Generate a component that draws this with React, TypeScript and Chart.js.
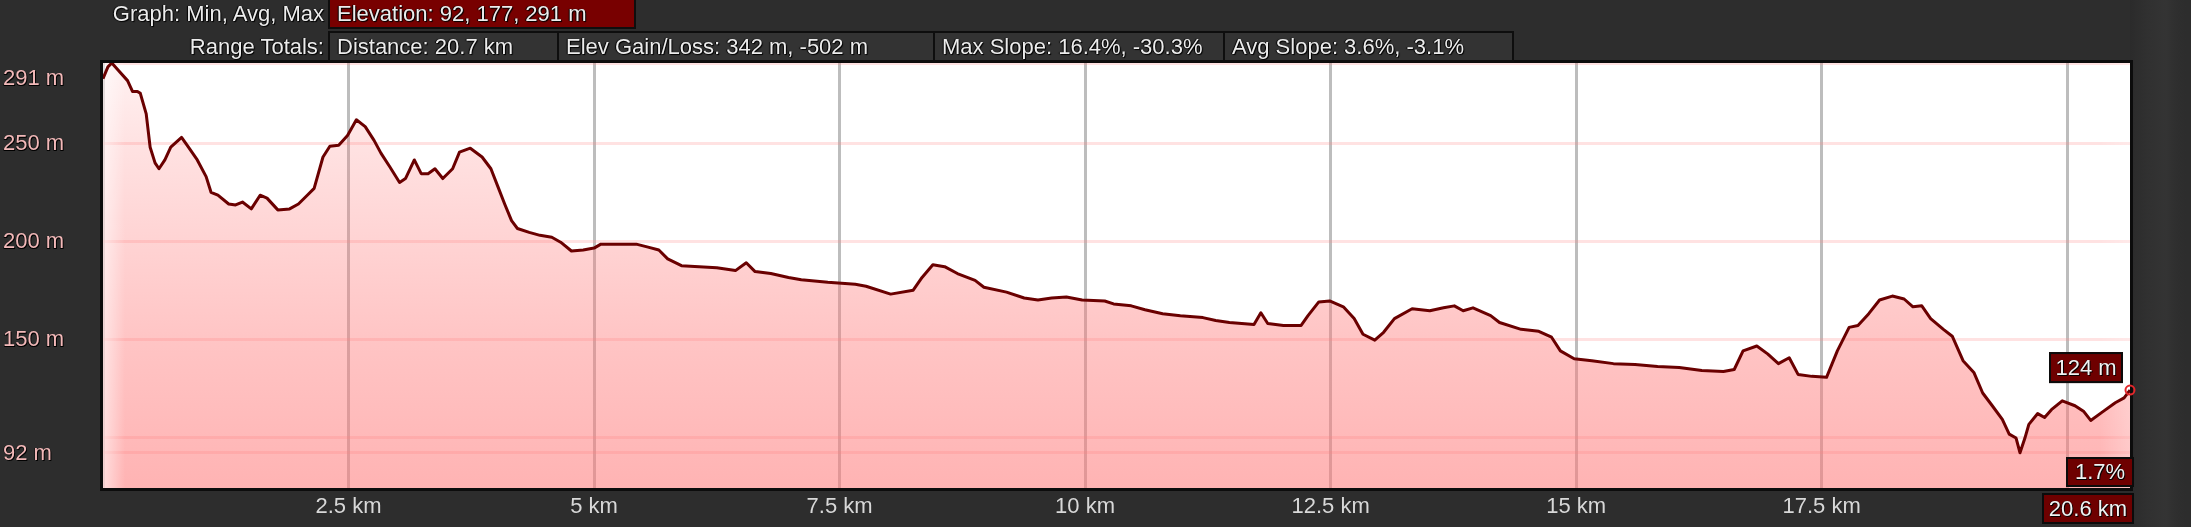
import React, { useEffect, useRef } from "react";
import { Chart, registerables } from "chart.js";

Chart.register(...registerables);

// ---- data ----
const distanceKm = [
  0, 0.05, 0.09, 0.16, 0.25, 0.3, 0.35, 0.38, 0.44, 0.48, 0.53, 0.57, 0.63, 0.69, 0.8, 0.87, 0.96,
  1.05, 1.1, 1.17, 1.28, 1.35, 1.42, 1.51, 1.6, 1.67, 1.78, 1.9, 1.99, 2.08, 2.15, 2.24, 2.31, 2.4,
  2.49, 2.58, 2.67, 2.76, 2.83, 2.92, 3.02, 3.08, 3.17, 3.24, 3.31, 3.38, 3.46, 3.56, 3.63, 3.74,
  3.86, 3.95, 4.02, 4.09, 4.16, 4.22, 4.34, 4.45, 4.57, 4.66, 4.77, 4.89, 5.0, 5.07, 5.25, 5.43,
  5.55, 5.66, 5.75, 5.89, 6.07, 6.25, 6.44, 6.55, 6.64, 6.8, 6.98, 7.11, 7.38, 7.66, 7.77, 8.02,
  8.25, 8.34, 8.45, 8.57, 8.7, 8.88, 8.97, 9.2, 9.38, 9.52, 9.66, 9.81, 9.97, 10.2, 10.29, 10.47,
  10.61, 10.79, 10.97, 11.2, 11.33, 11.47, 11.72, 11.79, 11.86, 12.02, 12.2, 12.27, 12.38, 12.49,
  12.63, 12.74, 12.83, 12.95, 13.04, 13.15, 13.33, 13.51, 13.65, 13.76, 13.85, 13.95, 14.13, 14.22,
  14.44, 14.62, 14.75, 14.84, 14.98, 15.16, 15.38, 15.6, 15.83, 16.05, 16.28, 16.5, 16.61, 16.7,
  16.84, 16.95, 17.06, 17.17, 17.26, 17.4, 17.55, 17.66, 17.78, 17.87, 17.98, 18.09, 18.22, 18.34,
  18.43, 18.52, 18.61, 18.74, 18.83, 18.94, 19.05, 19.14, 19.23, 19.34, 19.41, 19.48, 19.52, 19.57,
  19.61, 19.7, 19.77, 19.84, 19.95, 20.08, 20.17, 20.24, 20.35, 20.49, 20.58, 20.64,
];

const elevationM = [
  283, 289, 291, 287, 282, 276.5, 276.5, 275.5, 265, 248, 240, 237, 241.5, 248, 253, 248, 241.5,
  233, 225, 223.5, 219, 218.5, 220, 216.5, 223.5, 222, 216, 216.5, 219, 223.5, 227, 243, 248.5, 249,
  254, 262, 258.5, 251.5, 245, 238, 230, 232, 241.5, 234.5, 234.5, 237, 232, 237, 245.5, 247.5,
  243, 237, 228, 219, 210.5, 206.5, 204.5, 203, 202, 199.5, 195, 195.5, 196.5, 198.5, 198.5, 198.5,
  197, 195.5, 191, 187.5, 187, 186.5, 185, 189, 184.5, 183.5, 181.5, 180.3, 179, 178, 177, 173,
  175, 181.5, 188, 187, 183.5, 180, 176.5, 174, 171, 170, 171, 171.5, 170, 169.5, 168, 167,
  165, 163, 162, 161, 159.5, 158.5, 157.5, 163.5, 158, 157, 157, 162, 169, 169.5,
  166.5, 160.5, 152.5, 149.5, 153.5, 160.5, 165.5, 164.5, 166, 167, 164.5, 166, 162, 158.5,
  155, 154, 151, 144, 140, 139, 137.5, 137, 136, 135.5, 134, 133.5, 134.5, 144,
  146.5, 142.5, 137.5, 140.5, 132, 131, 130.5, 144, 156, 157, 163, 170, 172, 170.5,
  166.5, 167, 160.5, 155, 151.5, 139, 133, 122.5, 116.5, 109, 101.5, 99.5, 92, 99.5,
  106.5, 112, 110, 114, 118.5, 116, 113, 108.5, 112.5, 117.5, 120, 124,
];

const xTickValues = [0, 2.5, 5, 7.5, 10, 12.5, 15, 17.5, 20];
const xTickHidden = [0, 20];
const yTickValues = [92, 100, 150, 200, 250, 291];
const yTickHidden = [100];
const xRange = [0, 20.64];
const yRange = [74, 291];

const elevationStats = [92, 177, 291];
const totalDistanceKm = 20.7;
const elevGainLoss = [342, -502];
const maxSlopePct = [16.4, -30.3];
const avgSlopePct = [3.6, -3.1];
const endSlopePct = 1.7;

// ---- layout / style ----
const W = 2191;
const H = 527;
const PLOT_LEFT = 103;
const PLOT_TOP = 63;
const PLOT_RIGHT = 2130;
const PLOT_BOTTOM = 488;
const FONT = '"Liberation Sans", Arial, sans-serif';
const PAGE_BG = "#2d2d2d";
const BOX_RED = "#6e0000";

function drawShadowText(ctx: CanvasRenderingContext2D, text: string, x: number, y: number, color: string) {
  ctx.save();
  ctx.fillStyle = "rgba(0,0,0,0.95)";
  ctx.fillText(text, x + 1, y + 1);
  ctx.fillText(text, x - 0.5, y + 0.5);
  ctx.fillStyle = color;
  ctx.fillText(text, x, y);
  ctx.restore();
}

function drawBox(ctx: CanvasRenderingContext2D, text: string, left: number, top: number, w: number, h: number) {
  ctx.save();
  ctx.fillStyle = BOX_RED;
  ctx.fillRect(left, top, w, h);
  ctx.strokeStyle = "#0b0b0b";
  ctx.lineWidth = 2;
  ctx.strokeRect(left + 1, top + 1, w - 2, h - 2);
  ctx.font = `22px ${FONT}`;
  ctx.textAlign = "center";
  ctx.textBaseline = "middle";
  drawShadowText(ctx, text, left + w / 2, top + h / 2 + 1, "#f2f2f2");
  ctx.restore();
}

const decorPlugin = {
  id: "decor",
  beforeDraw(chart: any) {
    const { ctx, chartArea: a } = chart;
    ctx.save();
    ctx.fillStyle = PAGE_BG;
    ctx.fillRect(0, 0, W, H);
    const side = ctx.createLinearGradient(a.right, 0, W, 0);
    side.addColorStop(0, "rgba(0,0,0,0.05)");
    side.addColorStop(0.6, "rgba(255,255,255,0.03)");
    side.addColorStop(1, "rgba(0,0,0,0)");
    ctx.fillStyle = side;
    ctx.fillRect(a.right, 0, W - a.right, H);
    ctx.fillStyle = "#ffffff";
    ctx.fillRect(a.left, a.top, a.right - a.left, a.bottom - a.top);
    ctx.restore();
  },
  beforeDatasetDraw(chart: any) {
    const { ctx, chartArea: a } = chart;
    ctx.save();
    const g = ctx.createLinearGradient(a.left, 0, a.left + 22, 0);
    g.addColorStop(0, "rgba(255,255,255,0.55)");
    g.addColorStop(1, "rgba(255,255,255,0)");
    ctx.fillStyle = g;
    ctx.fillRect(a.left, a.top, 22, a.bottom - a.top);
    const g2 = ctx.createLinearGradient(a.right - 30, 0, a.right, 0);
    g2.addColorStop(0, "rgba(255,255,255,0)");
    g2.addColorStop(1, "rgba(255,255,255,0.25)");
    ctx.fillStyle = g2;
    ctx.fillRect(a.right - 30, a.top, 30, a.bottom - a.top);
    ctx.restore();
  },
  afterDraw(chart: any) {
    const { ctx, chartArea: a, scales } = chart;
    const xs = scales.x;
    const ys = scales.y;
    ctx.save();
    // frame
    ctx.strokeStyle = "#0c0c0c";
    ctx.lineWidth = 3;
    ctx.strokeRect(a.left - 1.5, a.top - 1.5, a.right - a.left + 3, a.bottom - a.top + 3);

    // y labels
    ctx.font = `22px ${FONT}`;
    ctx.textAlign = "left";
    ctx.textBaseline = "middle";
    yTickValues.forEach((v) => {
      if (yTickHidden.includes(v)) return;
      let py = ys.getPixelForValue(v);
      py = Math.max(py, a.top + 15);
      drawShadowText(ctx, `${v} m`, 3, py + 1, "#f3b9b9");
    });

    // end marker and value boxes
    const last = distanceKm.length - 1;
    const lx = xs.getPixelForValue(distanceKm[last]);
    const ly = ys.getPixelForValue(elevationM[last]);
    ctx.strokeStyle = "#e3262a";
    ctx.lineWidth = 2;
    ctx.beginPath();
    ctx.arc(lx, ly, 4.5, 0, Math.PI * 2);
    ctx.stroke();

    drawBox(ctx, `${Math.round(elevationM[last])} m`, lx - 81, ly - 38, 74, 31);
    drawBox(ctx, `${endSlopePct}%`, lx - 64, a.bottom - 31, 68, 30);
    drawBox(ctx, `${distanceKm[last].toFixed(1)} km`, lx - 88, a.bottom + 5, 92, 31);
    ctx.restore();
  },
};

const headerText: React.CSSProperties = {
  position: "absolute",
  fontFamily: FONT,
  fontSize: 22,
  color: "#ececec",
  textShadow: "1px 1px 1px #000, -1px 0 1px #000",
  whiteSpace: "nowrap",
};

function HeaderBox(props: { left: number; right: number; top: number; height: number; red?: boolean; text: string }) {
  return (
    <div
      style={{
        ...headerText,
        left: props.left,
        top: props.top,
        width: props.right - props.left,
        height: props.height,
        boxSizing: "border-box",
        border: "2px solid #0e0e0e",
        background: props.red ? "#780000" : "#333333",
        lineHeight: `${props.height - 4}px`,
        paddingLeft: 7,
        overflow: "hidden",
      }}
    >
      {props.text}
    </div>
  );
}

export default function App() {
  const canvasRef = useRef<HTMLCanvasElement | null>(null);

  useEffect(() => {
    const canvas = canvasRef.current;
    if (!canvas) return;
    const points = distanceKm.map((d, i) => ({ x: d, y: elevationM[i] }));
    const chart = new Chart(canvas, {
      type: "line",
      data: {
        datasets: [
          {
            data: points,
            borderColor: "#6a0000",
            borderWidth: 3,
            borderJoinStyle: "round",
            pointRadius: 0,
            tension: 0,
            fill: "start",
            backgroundColor: (c: any) => {
              const a = c.chart.chartArea;
              if (!a) return "rgba(255,120,120,0.4)";
              const g = c.chart.ctx.createLinearGradient(0, a.top, 0, a.bottom);
              g.addColorStop(0, "rgba(255,120,120,0.10)");
              g.addColorStop(0.2, "rgba(255,120,120,0.22)");
              g.addColorStop(0.65, "rgba(255,120,120,0.43)");
              g.addColorStop(1, "rgba(255,120,120,0.56)");
              return g;
            },
          },
        ],
      },
      options: {
        responsive: false,
        animation: false,
        devicePixelRatio: 1,
        layout: { padding: { left: 0, top: PLOT_TOP, right: W - PLOT_RIGHT, bottom: 0 } },
        plugins: { legend: { display: false }, tooltip: { enabled: false } },
        scales: {
          x: {
            type: "linear",
            min: xRange[0],
            max: xRange[1],
            afterBuildTicks: (s: any) => {
              s.ticks = xTickValues.map((v) => ({ value: v }));
            },
            afterFit: (s: any) => {
              s.height = H - PLOT_BOTTOM;
            },
            border: { display: false },
            grid: { color: "#bdbdbd", lineWidth: 3, drawTicks: false },
            ticks: {
              autoSkip: false,
              maxRotation: 0,
              padding: 6,
              color: "#d8d8d8",
              font: { family: FONT, size: 22 },
              callback: (v: any) => (xTickHidden.includes(Number(v)) ? "" : `${v} km`),
            },
          },
          y: {
            type: "linear",
            min: yRange[0],
            max: yRange[1],
            afterBuildTicks: (s: any) => {
              s.ticks = yTickValues.map((v) => ({ value: v }));
            },
            afterFit: (s: any) => {
              s.width = PLOT_LEFT;
            },
            border: { display: false },
            grid: { color: "rgba(255,140,140,0.25)", lineWidth: 3, drawTicks: false },
            ticks: { display: false },
          },
        },
      } as any,
      plugins: [decorPlugin],
    });
    return () => chart.destroy();
  }, []);

  return (
    <div style={{ position: "fixed", left: 0, top: 0, width: W, height: H, background: PAGE_BG, overflow: "hidden" }}>
      <canvas ref={canvasRef} width={W} height={H} style={{ position: "absolute", left: 0, top: 0 }} />
      <div style={{ ...headerText, right: W - 324, top: 0, height: 28, lineHeight: "28px" }}>Graph: Min, Avg, Max</div>
      <HeaderBox left={328} right={636} top={-2} height={31} red text={`Elevation: ${elevationStats.join(", ")} m`} />
      <div style={{ ...headerText, right: W - 324, top: 31, height: 31, lineHeight: "31px" }}>Range Totals:</div>
      <HeaderBox left={328} right={559} top={31} height={31} text={`Distance: ${totalDistanceKm} km`} />
      <HeaderBox left={557} right={935} top={31} height={31} text={`Elev Gain/Loss: ${elevGainLoss[0]} m, ${elevGainLoss[1]} m`} />
      <HeaderBox left={933} right={1225} top={31} height={31} text={`Max Slope: ${maxSlopePct[0]}%, ${maxSlopePct[1]}%`} />
      <HeaderBox left={1223} right={1514} top={31} height={31} text={`Avg Slope: ${avgSlopePct[0]}%, ${avgSlopePct[1]}%`} />
    </div>
  );
}
